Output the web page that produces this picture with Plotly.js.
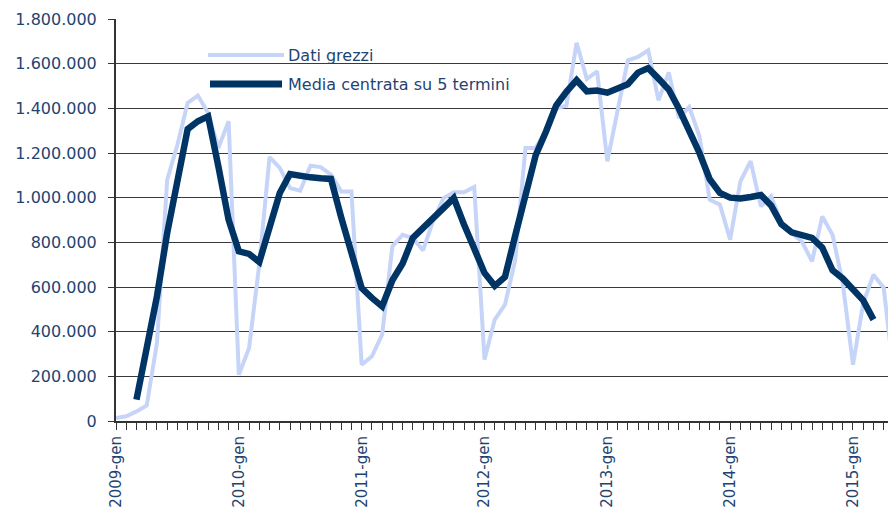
<!DOCTYPE html>
<html>
<head>
<meta charset="utf-8">
<script src="https://cdn.plot.ly/plotly-3.0.1.min.js"></script>
<style>html,body{margin:0;padding:0;background:#fff;}#chart{width:888px;height:519px;}</style>
</head>
<body>
<div id="chart"></div>
<script>
// Month index 0 = 2009-gen
var rawIndex = [];
for (var k = 0; k <= 76; k++) rawIndex.push(k);
// Dati grezzi
var rawValues = [13000, 21000, 43000, 69000, 349000, 1080000, 1237000, 1424000, 1457000, 1379000,
  1222000, 1342000, 207000, 327000, 702000, 1182000, 1133000, 1043000, 1031000, 1143000,
  1137000, 1103000, 1028000, 1028000, 252000, 290000, 387000, 782000, 834000, 819000,
  764000, 900000, 998000, 1024000, 1024000, 1048000, 275000, 454000, 521000, 720000,
  1222000, 1222000, 1300000, 1400000, 1412000, 1693000, 1531000, 1566000, 1163000, 1400000,
  1615000, 1630000, 1660000, 1436000, 1561000, 1357000, 1406000, 1275000, 991000, 969000,
  812000, 1073000, 1163000, 961000, 1006000, 887000, 842000, 804000, 715000, 916000,
  834000, 618000, 252000, 528000, 655000, 596000, 200000];
// Media centrata su 5 termini, months 2..74
var maIndex = [];
for (var m = 2; m <= 74; m++) maIndex.push(m);
var maValues = [96000, 319000, 558000, 842000, 1095000, 1307000, 1342000, 1364000,
  1140000, 901000, 760000, 748000, 712000, 872000, 1021000, 1106000, 1095000, 1091000,
  1087000, 1084000, 912000, 745000, 595000, 551000, 513000, 630000, 705000, 820000,
  866000, 905000, 955000, 998000, 880000, 767000, 663000, 605000, 645000, 830000,
  1010000, 1190000, 1295000, 1412000, 1474000, 1526000, 1476000, 1480000, 1470000, 1488000,
  1508000, 1560000, 1580000, 1533000, 1484000, 1398000, 1300000, 1200000, 1083000, 1021000,
  1000000, 996000, 1003000, 1012000, 965000, 882000, 845000, 832000, 820000, 776000,
  675000, 638000, 592000, 540000, 454000];
var tickPositions = [0, 12, 24, 36, 48, 60, 72];
var tickLabels = ["2009-gen", "2010-gen", "2011-gen", "2012-gen", "2013-gen", "2014-gen", "2015-gen"];
var yTicks = [0, 200000, 400000, 600000, 800000, 1000000, 1200000, 1400000, 1600000, 1800000];
var yLabels = ["0", "200.000", "400.000", "600.000", "800.000", "1.000.000", "1.200.000", "1.400.000", "1.600.000", "1.800.000"];
var seriesNames = ["Dati grezzi", "Media centrata su 5 termini"];

var textColor = '#1f4471';
var rawColor = '#c6d4f8';
var maColor = '#003465';
var font = 'DejaVu Sans, sans-serif';

var traces = [
  {x: rawIndex, y: rawValues, type: 'scatter', mode: 'lines', name: seriesNames[0],
   line: {color: rawColor, width: 4}, showlegend: false, hoverinfo: 'skip'},
  {x: maIndex, y: maValues, type: 'scatter', mode: 'lines', name: seriesNames[1],
   line: {color: maColor, width: 6.5}, showlegend: false}
];

// Plot area in pixels: left 116, right 888, top 19, bottom 421
function px2paperX(px) { return (px - 116) / 772; }
function px2paperY(py) { return (421 - py) / 402; }

var layout = {
  width: 888, height: 519,
  margin: {l: 116, r: 0, t: 19, b: 98, pad: 0},
  paper_bgcolor: '#fff', plot_bgcolor: '#fff',
  font: {family: font, size: 16, color: textColor},
  xaxis: {
    range: [0, 75.42], showgrid: false, zeroline: false,
    showline: true, linecolor: '#333', linewidth: 2,
    tickmode: 'array', tickvals: tickPositions, ticktext: tickLabels,
    tickangle: -90, ticks: 'outside', ticklen: 7, tickcolor: '#333', tickwidth: 1,
    tickfont: {family: font, size: 15, color: textColor},
    minor: {dtick: 1, tick0: 0, ticks: 'outside', ticklen: 7, tickcolor: '#333', tickwidth: 1, showgrid: false}
  },
  yaxis: {
    range: [0, 1800000], showgrid: true, gridcolor: '#3a3a3a', gridwidth: 1,
    zeroline: false, showline: true, linecolor: '#333', linewidth: 2,
    tickmode: 'array', tickvals: yTicks, ticktext: yLabels,
    ticks: 'outside', ticklen: 6, tickcolor: '#333',
    tickfont: {family: font, size: 16, color: textColor},
    ticklabelstandoff: 8
  },
  shapes: [
    {type: 'rect', xref: 'paper', yref: 'paper', layer: 'between',
     x0: px2paperX(193), x1: px2paperX(537), y0: px2paperY(101), y1: px2paperY(37),
     fillcolor: '#fff', line: {width: 0}},
    {type: 'line', xref: 'paper', yref: 'paper', layer: 'above',
     x0: px2paperX(208), x1: px2paperX(284), y0: px2paperY(55), y1: px2paperY(55),
     line: {color: rawColor, width: 4}},
    {type: 'line', xref: 'paper', yref: 'paper', layer: 'above',
     x0: px2paperX(210), x1: px2paperX(282), y0: px2paperY(84), y1: px2paperY(84),
     line: {color: maColor, width: 7}}
  ],
  annotations: [
    {xref: 'paper', yref: 'paper', x: px2paperX(286), y: px2paperY(55), xanchor: 'left', yanchor: 'middle',
     text: seriesNames[0], showarrow: false, font: {family: font, size: 16, color: textColor}},
    {xref: 'paper', yref: 'paper', x: px2paperX(286), y: px2paperY(84), xanchor: 'left', yanchor: 'middle',
     text: seriesNames[1], showarrow: false, font: {family: font, size: 16, color: textColor}}
  ]
};

Plotly.newPlot('chart', traces, layout, {displayModeBar: false, staticPlot: true});
</script>
</body>
</html>
